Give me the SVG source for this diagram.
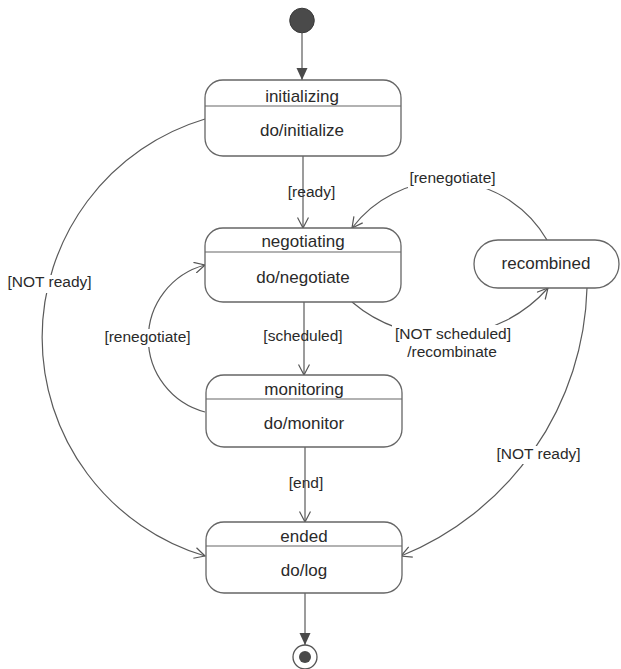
<svg xmlns="http://www.w3.org/2000/svg" width="621" height="669" viewBox="0 0 621 669">
  <defs>
    <marker id="open" markerUnits="userSpaceOnUse" viewBox="0 0 12 12" markerWidth="12" markerHeight="12" refX="11" refY="6" orient="auto">
      <path d="M0.5,0.5 L11,6 L0.5,11.5" fill="none" stroke="#555" stroke-width="1.2"/>
    </marker>
    <marker id="solid" markerUnits="userSpaceOnUse" viewBox="0 0 12 12" markerWidth="12" markerHeight="12" refX="12" refY="6" orient="auto">
      <path d="M0,0.5 L12,6 L0,11.5 z" fill="#4a4a4a"/>
    </marker>
    <style>
      .box { fill: #fff; stroke: #666; stroke-width: 1.3; }
      .div { stroke: #666; stroke-width: 1.2; }
      .edge { fill: none; stroke: #5a5a5a; stroke-width: 1.2; }
      .arrow { marker-end: url(#open); }
      .st { font-family: "Liberation Sans", Arial, sans-serif; font-size: 17px; fill: #2a2a2a; text-anchor: middle; }
      .lb { font-family: "Liberation Sans", Arial, sans-serif; font-size: 15.5px; fill: #2a2a2a; text-anchor: middle; }
      .bg { fill: #fff; }
    </style>
  </defs>

  <!-- transitions -->
  <g id="connectors">
    <line class="edge" x1="302" y1="33" x2="302" y2="80" marker-end="url(#solid)"/>
    <line class="edge arrow" x1="303" y1="156" x2="303" y2="228"/>
    <line class="edge arrow" x1="304" y1="302" x2="304" y2="375"/>
    <line class="edge arrow" x1="305" y1="447" x2="305" y2="522"/>
    <line class="edge" x1="305" y1="593" x2="305" y2="645" marker-end="url(#solid)"/>
    <!-- initializing -> ended -->
    <path class="edge arrow" d="M205,119 A228,228 0 0 0 205,556"/>
    <!-- monitoring -> negotiating -->
    <path class="edge arrow" d="M205,412 A76,76 0 0 1 205,265"/>
    <!-- recombined -> negotiating -->
    <path class="edge arrow" d="M547,240 A117,117 0 0 0 352,228"/>
    <!-- negotiating -> recombined -->
    <path class="edge arrow" d="M352,302 A140,140 0 0 0 548,288"/>
    <!-- recombined -> ended -->
    <path class="edge arrow" d="M587,288 A298,298 0 0 1 401,556"/>
  </g>

  <!-- transition labels -->
  <g id="labels">
    <text class="lb" x="311.5" y="197">[ready]</text>
    <text class="lb" x="303" y="341">[scheduled]</text>
    <text class="lb" x="306" y="488">[end]</text>
    <rect class="bg" x="6" y="275" width="88" height="18"/>
    <text class="lb" x="49.5" y="287">[NOT ready]</text>
    <rect class="bg" x="104" y="329" width="88" height="18"/>
    <text class="lb" x="147.5" y="342">[renegotiate]</text>
    <rect class="bg" x="408" y="171" width="90" height="18"/>
    <text class="lb" x="452.5" y="183">[renegotiate]</text>
    <rect class="bg" x="392" y="325" width="123" height="36"/>
    <text class="lb" x="453" y="339">[NOT scheduled]</text>
    <text class="lb" x="452" y="357">/recombinate</text>
    <rect class="bg" x="494" y="446" width="89" height="18"/>
    <text class="lb" x="538.5" y="459">[NOT ready]</text>
  </g>

  <!-- pseudo states -->
  <g id="initial">
    <circle cx="302" cy="20.5" r="12.3" fill="#4a4a4a" stroke="#3a3a3a" stroke-width="1"/>
  </g>
  <g id="final">
    <circle cx="305" cy="657" r="12" fill="#fff" stroke="#555" stroke-width="1.3"/>
    <circle cx="305" cy="657" r="6" fill="#4a4a4a"/>
  </g>

  <!-- states -->
  <g id="initializing">
    <rect class="box" x="205" y="80" width="196" height="76" rx="18" ry="18"/>
    <line class="div" x1="205" y1="106" x2="401" y2="106"/>
    <text class="st" x="302" y="102">initializing</text>
    <text class="st" x="302" y="136">do/initialize</text>
  </g>
  <g id="negotiating">
    <rect class="box" x="205" y="228" width="196" height="74" rx="18" ry="18"/>
    <line class="div" x1="205" y1="252" x2="401" y2="252"/>
    <text class="st" x="303" y="247">negotiating</text>
    <text class="st" x="303" y="283">do/negotiate</text>
  </g>
  <g id="monitoring">
    <rect class="box" x="206" y="375" width="196" height="72" rx="18" ry="18"/>
    <line class="div" x1="206" y1="399" x2="402" y2="399"/>
    <text class="st" x="304" y="395">monitoring</text>
    <text class="st" x="304" y="429">do/monitor</text>
  </g>
  <g id="ended">
    <rect class="box" x="206" y="522" width="196" height="71" rx="18" ry="18"/>
    <line class="div" x1="206" y1="546" x2="402" y2="546"/>
    <text class="st" x="304" y="542">ended</text>
    <text class="st" x="304" y="576">do/log</text>
  </g>
  <g id="recombined">
    <rect class="box" x="474" y="240" width="145" height="48" rx="24" ry="24"/>
    <text class="st" x="546" y="269">recombined</text>
  </g>
</svg>
